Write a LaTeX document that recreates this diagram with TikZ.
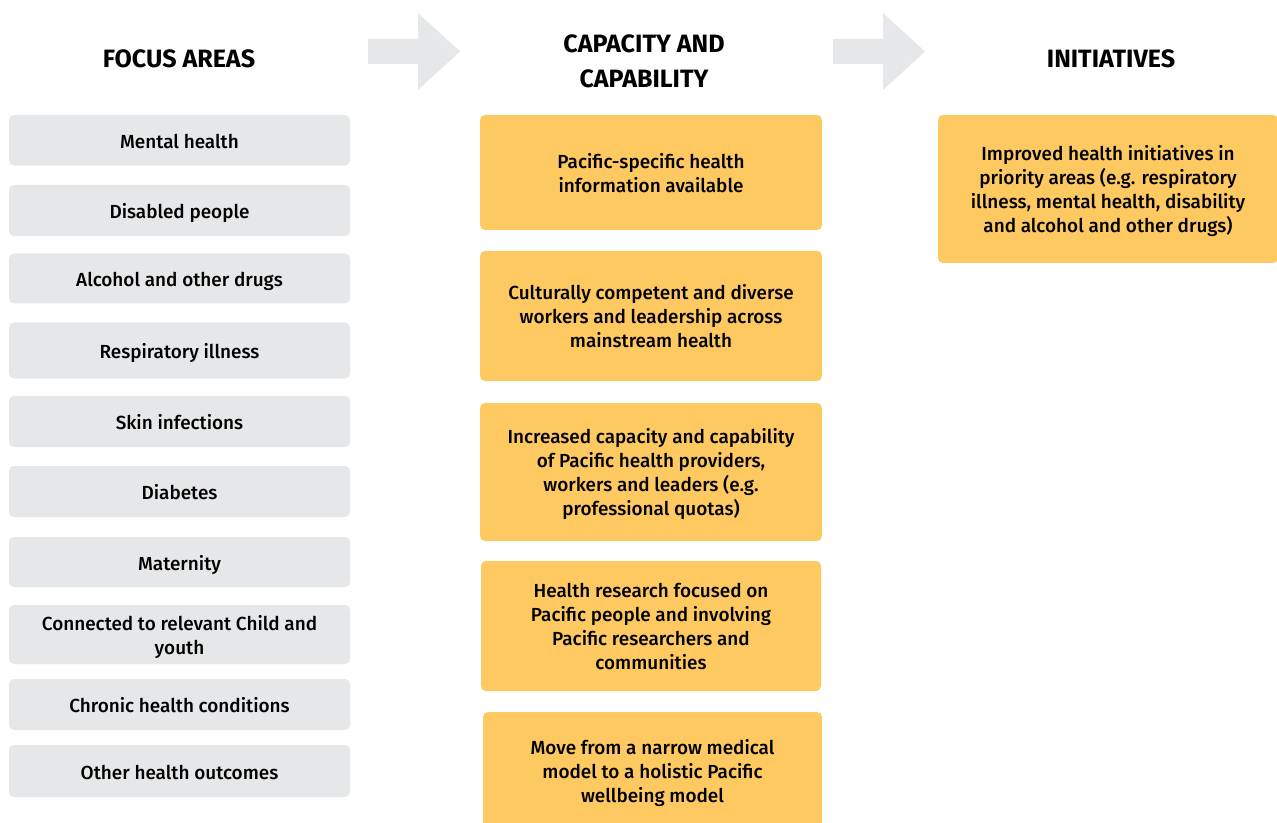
\documentclass[tikz,border=0pt]{standalone}
\usepackage{fontspec}
\setmainfont{Fira Sans}[UprightFont={* Medium},BoldFont={* Bold}]
\definecolor{boxgray}{HTML}{E6E7E8}
\definecolor{boxorange}{HTML}{FEC960}
\definecolor{arrowgray}{HTML}{E6E7E8}
\newcommand\topstrut{\rule{0pt}{16pt}}
\newcommand\botstrut{\rule[-3.6pt]{0pt}{3.6pt}}
\newcommand\firstline{\rule{0pt}{15pt}}
\begin{document}
\begin{tikzpicture}[x=0.75pt,y=-0.75pt,
  base/.style={rounded corners=3.75pt, inner sep=0pt, align=center,
    font=\fontsize{14.2pt}{18pt}\selectfont, text=black,
    execute at begin node=\topstrut, execute at end node=\botstrut},
  gbox/.style={base, fill=boxgray, minimum width=255.75pt},
  obox/.style={base, fill=boxorange},
  head/.style={font=\fontsize{18.8pt}{26pt}\selectfont\bfseries, align=center, inner sep=0pt},
  bigarrow/.style={fill=arrowgray}]
\clip (0,0) rectangle (1277,823);
\fill[white] (0,0) rectangle (1277,823);
% headers
\node[head] (h1) at (179,59) {FOCUS AREAS};
\node[head] (h2) at (644,61) {CAPACITY AND\\CAPABILITY};
\node[head] (h3) at (1111,59) {INITIATIVES};
% arrows
\fill[bigarrow] (368,39)--(418,39)--(418,13)--(460,51.5)--(418,90)--(418,64)--(368,64)--cycle;
\fill[bigarrow] (833,39)--(883,39)--(883,13)--(925,51.5)--(883,90)--(883,64)--(833,64)--cycle;
% focus areas
\node[gbox, minimum height=37.9pt] (f1) at (179.5,140.3) {Mental health};
\node[gbox, minimum height=38.25pt] (f2) at (179.5,210.5) {Disabled people};
\node[gbox, minimum height=37.5pt] (f3) at (179.5,278.5) {Alcohol and other drugs};
\node[gbox, minimum height=42pt] (f4) at (179.5,350.5) {Respiratory illness};
\node[gbox, minimum height=38.25pt] (f5) at (179.5,421.5) {Skin infections};
\node[gbox, minimum height=38.25pt] (f6) at (179.5,491.5) {Diabetes};
\node[gbox, minimum height=37.5pt] (f7) at (179.5,562) {Maternity};
\node[gbox, minimum height=44.25pt] (f8) at (179.5,634.5) {\firstline Connected to relevant Child and\\youth};
\node[gbox, minimum height=38.25pt] (f9) at (179.5,704.5) {Chronic health conditions};
\node[gbox, minimum height=39pt] (f10) at (179.5,771) {Other health outcomes};
% capacity and capability
\node[obox, minimum width=256.5pt, minimum height=86.25pt] (c1) at (651,172.5) {\firstline Pacific-specific health\\information available};
\node[obox, minimum width=256.5pt, minimum height=97.5pt] (c2) at (651,316) {\firstline Culturally competent and diverse\\workers and leadership across\\mainstream health};
\node[obox, minimum width=256.5pt, minimum height=103.5pt] (c3) at (651,472) {\firstline Increased capacity and capability\\of Pacific health providers,\\workers and leaders (e.g.\\professional quotas)};
\node[obox, minimum width=255pt, minimum height=97.5pt] (c4) at (651,626) {\firstline Health research focused on\\Pacific people and involving\\Pacific researchers and\\communities};
\node[obox, minimum width=254.25pt, minimum height=88.5pt] (c5) at (652.5,771) {\firstline Move from a narrow medical\\model to a holistic Pacific\\wellbeing model};
% initiatives
\node[obox, minimum width=255pt, minimum height=111pt] (i1) at (1108,189) {\firstline Improved health initiatives in\\priority areas (e.g. respiratory\\illness, mental health, disability\\and alcohol and other drugs)};
\end{tikzpicture}
\end{document}
